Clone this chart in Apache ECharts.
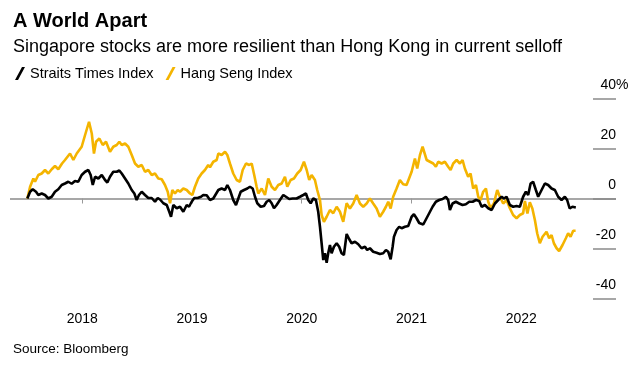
<!DOCTYPE html>
<html><head><meta charset="utf-8">
<script src="https://cdn.jsdelivr.net/npm/echarts@6/dist/echarts.min.js"></script>
<style>html,body{margin:0;padding:0;background:#fff}#c{width:639px;height:365px}</style>
</head><body><div id="c"></div>
<script>
const titleText = 'A World Apart';
const subtitleText = 'Singapore stocks are more resilient than Hong Kong in current selloff';
const sourceText = 'Source: Bloomberg';
const seriesNames = ['Straits Times Index', 'Hang Seng Index'];
const seriesColors = ['#000000', '#F4B400'];
const yearTicks = [2018, 2019, 2020, 2021, 2022];
const yTicks = [-40, -20, 0, 20, 40];

// Straits Times Index, % change (time in decimal years)
const stiTime = [2017.500,2017.525,2017.549,2017.579,2017.600,2017.631,2017.661,2017.691,2017.722,2017.752,2017.782,2017.813,2017.843,2017.873,2017.904,2017.934,2017.964,2017.995,2018.026,2018.056,2018.077,2018.096,2018.117,2018.147,2018.178,2018.208,2018.229,2018.253,2018.283,2018.314,2018.338,2018.360,2018.390,2018.420,2018.451,2018.475,2018.496,2018.517,2018.542,2018.572,2018.602,2018.633,2018.663,2018.688,2018.709,2018.739,2018.770,2018.793,2018.809,2018.830,2018.861,2018.891,2018.921,2018.952,2018.973,2018.997,2019.021,2019.052,2019.082,2019.103,2019.134,2019.164,2019.194,2019.240,2019.270,2019.301,2019.322,2019.346,2019.376,2019.401,2019.422,2019.444,2019.474,2019.504,2019.528,2019.553,2019.574,2019.595,2019.626,2019.656,2019.680,2019.704,2019.726,2019.747,2019.771,2019.801,2019.832,2019.856,2019.886,2019.917,2019.953,2019.984,2020.014,2020.038,2020.059,2020.081,2020.105,2020.129,2020.150,2020.166,2020.181,2020.196,2020.211,2020.227,2020.241,2020.257,2020.272,2020.293,2020.318,2020.341,2020.363,2020.384,2020.409,2020.433,2020.454,2020.485,2020.515,2020.545,2020.576,2020.596,2020.621,2020.651,2020.682,2020.712,2020.742,2020.767,2020.788,2020.810,2020.828,2020.840,2020.864,2020.888,2020.910,2020.940,2020.970,2021.001,2021.022,2021.046,2021.070,2021.086,2021.107,2021.131,2021.161,2021.192,2021.222,2021.252,2021.283,2021.313,2021.334,2021.350,2021.374,2021.404,2021.434,2021.465,2021.495,2021.526,2021.557,2021.587,2021.617,2021.639,2021.669,2021.699,2021.730,2021.760,2021.790,2021.821,2021.842,2021.866,2021.896,2021.926,2021.957,2021.987,2022.017,2022.042,2022.063,2022.085,2022.108,2022.133,2022.154,2022.185,2022.215,2022.245,2022.276,2022.306,2022.336,2022.367,2022.397,2022.418,2022.441,2022.466,2022.497];
const stiValue = [0,2.7,3.7,2.7,1.4,2,1.4,0,0.7,2.7,3.7,5.4,6,6.7,5.9,7,6.7,9.4,10.7,11.4,9.4,5.4,8.7,8,9.4,7.4,6.4,8.7,10.7,10.7,11.2,10,8,6,3.4,2,-0.6,1.4,2.7,1.4,0.2,0.2,-1.3,0.2,-0.4,-1.9,-2.6,-5.3,-7.3,-2.6,-3.9,-3.3,-5.3,-2.6,-3.3,-1.3,0.2,0.2,0.7,1.4,1.3,-0.6,0,3.4,4,3.4,5.4,3.4,-0.6,-2.6,0,2.7,3.4,4,4.7,4,0.7,-1.9,-3.3,-3,-1.3,-0.6,-1.9,-3.9,-2.6,-0.6,1.4,0.7,-0.2,0,0,0.7,1.4,2,-0.6,-1.9,0,-0.6,-5.3,-11.3,-17.9,-24.6,-21.9,-25.7,-21.9,-18.6,-21.9,-19.3,-17.9,-19.3,-21.9,-22.6,-14.2,-16.3,-17.9,-17.3,-18.3,-19.9,-19.3,-20.6,-19.9,-21.3,-21.7,-22.2,-21.9,-20.6,-21.3,-24.3,-19.3,-15.3,-12.6,-11.3,-11.9,-11.3,-11,-7.3,-6.3,-7.9,-9.8,-9.1,-10.4,-8.4,-5.9,-3.3,-1.3,-0.6,-0.2,0.7,-0.6,-4.6,-2,-1.3,-2,-2.6,-2.3,-1.3,-1.3,-0.6,-1,-3.3,-2.6,-3.9,-4.6,-2,-0.6,0.7,0,0.7,-2.6,-3.3,-3,-3.3,0.7,2.7,1.4,6,6.7,3.4,0.7,3.4,6,5.4,4,3.4,0.7,-0.6,0.7,-0.6,-4,-3.3,-3.6];

// Hang Seng Index, % change (time in decimal years)
const hsiTime = [2017.500,2017.525,2017.555,2017.570,2017.600,2017.631,2017.661,2017.691,2017.722,2017.752,2017.782,2017.816,2017.843,2017.889,2017.919,2017.950,2017.995,2018.026,2018.062,2018.087,2018.107,2018.126,2018.156,2018.187,2018.217,2018.253,2018.283,2018.314,2018.338,2018.360,2018.390,2018.420,2018.451,2018.481,2018.511,2018.542,2018.572,2018.602,2018.633,2018.663,2018.693,2018.724,2018.754,2018.779,2018.800,2018.821,2018.845,2018.870,2018.891,2018.921,2018.952,2018.982,2019.003,2019.027,2019.057,2019.088,2019.118,2019.148,2019.164,2019.194,2019.225,2019.240,2019.270,2019.301,2019.322,2019.346,2019.376,2019.407,2019.437,2019.462,2019.492,2019.522,2019.544,2019.567,2019.589,2019.604,2019.635,2019.665,2019.695,2019.726,2019.756,2019.786,2019.817,2019.847,2019.868,2019.899,2019.929,2019.959,2019.990,2020.020,2020.045,2020.068,2020.090,2020.120,2020.141,2020.166,2020.181,2020.202,2020.227,2020.257,2020.287,2020.318,2020.348,2020.378,2020.409,2020.439,2020.469,2020.500,2020.530,2020.560,2020.591,2020.621,2020.651,2020.682,2020.712,2020.742,2020.767,2020.788,2020.810,2020.833,2020.864,2020.894,2020.924,2020.955,2020.970,2021.001,2021.031,2021.052,2021.077,2021.101,2021.116,2021.138,2021.168,2021.198,2021.222,2021.243,2021.274,2021.304,2021.334,2021.356,2021.380,2021.411,2021.441,2021.465,2021.486,2021.516,2021.538,2021.562,2021.587,2021.608,2021.629,2021.653,2021.678,2021.699,2021.720,2021.750,2021.781,2021.805,2021.835,2021.866,2021.896,2021.926,2021.957,2021.987,2022.017,2022.033,2022.056,2022.078,2022.101,2022.124,2022.145,2022.169,2022.194,2022.230,2022.254,2022.276,2022.297,2022.322,2022.345,2022.376,2022.406,2022.427,2022.449,2022.473,2022.495];
const hsiValue = [0,4.7,8,6.7,9.4,10,11.4,10,11.7,13,11.7,14,15.4,18,15.4,18,20.7,25.4,30.7,26,18,22.7,24,21.4,22.7,18.7,20.7,21.4,22.7,21.4,22,20.7,17.4,14,12.7,13.4,10.7,11.4,9.4,10,8,7.7,5.4,2.7,-1.9,3.4,2,3.4,2.7,4,3.4,2,1.4,4.7,8,10,11.4,13.4,12.5,14.7,15.4,18,17.4,18.7,17.4,14,10,7.4,6.7,11.4,14,13.4,14,9.4,4.7,2,4,1.4,8,4.7,3.4,5.4,6,8.7,4.7,7.4,8,10,11.4,14.7,11.4,7.4,9.4,7.4,3.4,-0.6,-6.6,-9.3,-7.3,-4.6,-5.9,-3.3,-5.3,-9.3,-1.9,-4,-2,1.4,-2,-3.3,-2,0,-2,-4,-7.3,-5.3,-3.3,-1.3,-4,0.7,4,7.4,5.7,5.4,4.7,10.7,16,12,17.4,20.7,21.4,15.4,14.7,14,12.7,14.7,14,14.7,12.7,11.4,14,15.4,14,15.4,12,8.7,10,4,5.4,0.7,-0.6,2.7,4,-1.3,-3.9,-2,3.4,0.7,-2,-0.6,-3.9,-6.6,-7.9,-6.6,-5.9,-1,-6,-1.5,-4,-8.6,-13.9,-17.9,-15.3,-13.3,-15.9,-14.6,-17.9,-19.9,-21,-18.6,-15.9,-13.9,-15.3,-12.9,-12.9];

const FONT = '"Liberation Sans", Arial, sans-serif';
const toPairs = (ts, vs) => ts.map((t, i) => [t, vs[i]]);
const legendIcon = 'path://M0,13 L7,0 L10,0 L3,13 Z';

const chart = echarts.init(document.getElementById('c'), null, {renderer: 'canvas'});
chart.setOption({
  animation: false,
  backgroundColor: '#ffffff',
  title: [
    {text: titleText, left: 8, top: 6, textStyle: {fontFamily: FONT, fontWeight: 'bold', fontSize: 20, color: '#000'}},
    {text: subtitleText, left: 8, top: 33, textStyle: {fontFamily: FONT, fontWeight: 'normal', fontSize: 18, color: '#000'}},
    {text: sourceText, left: 8, top: 337, textStyle: {fontFamily: FONT, fontWeight: 'normal', fontSize: 13.5, color: '#000'}}
  ],
  legend: {
    left: 10, top: 61, itemWidth: 10, itemHeight: 13, itemGap: 12,
    textStyle: {fontFamily: FONT, fontSize: 14.5, color: '#000', padding: [0, 0, 0, 0]},
    data: seriesNames.map(n => ({name: n, icon: legendIcon}))
  },
  grid: {left: 10, right: 23, top: 98.5, bottom: 66.5, containLabel: false},
  xAxis: {
    type: 'value', min: 2017.342, max: 2022.863,
    axisLine: {show: false},
    splitLine: {show: false},
    axisTick: {show: true, length: 5, customValues: yearTicks, lineStyle: {color: '#999', width: 1}},
    axisLabel: {customValues: yearTicks, formatter: v => String(v), margin: 14, fontFamily: FONT, fontSize: 14, color: '#000'}
  },
  yAxis: {
    type: 'value', position: 'right', min: -40, max: 40, interval: 20,
    axisLine: {show: false},
    axisTick: {show: true, inside: true, length: 23, lineStyle: {color: '#8a8a8a', width: 1.5}},
    splitLine: {show: true, lineStyle: {color: yTicks.map(v => v === 0 ? '#8a8a8a' : 'rgba(0,0,0,0)'), width: 1.5}},
    axisLabel: {
      inside: true, margin: 24, align: 'left', verticalAlign: 'bottom', padding: [0, 0, 6, 0],
      fontFamily: FONT, fontSize: 14, color: '#000',
      formatter: v => v === 40 ? '{n|40}{p|%}' : '{n|' + v + '}',
      rich: {
        n: {fontFamily: FONT, fontSize: 14, color: '#000', width: 24, align: 'right'},
        p: {fontFamily: FONT, fontSize: 14, color: '#000', align: 'right'}
      }
    }
  },
  series: [
    {name: seriesNames[0], type: 'line', z: 4, data: toPairs(stiTime, stiValue), showSymbol: false, symbol: 'none',
     itemStyle: {color: seriesColors[0]}, lineStyle: {color: seriesColors[0], width: 2.6}},
    {name: seriesNames[1], type: 'line', z: 3, data: toPairs(hsiTime, hsiValue), showSymbol: false, symbol: 'none',
     itemStyle: {color: seriesColors[1]}, lineStyle: {color: seriesColors[1], width: 2.6}}
  ]
});
</script></body></html>
